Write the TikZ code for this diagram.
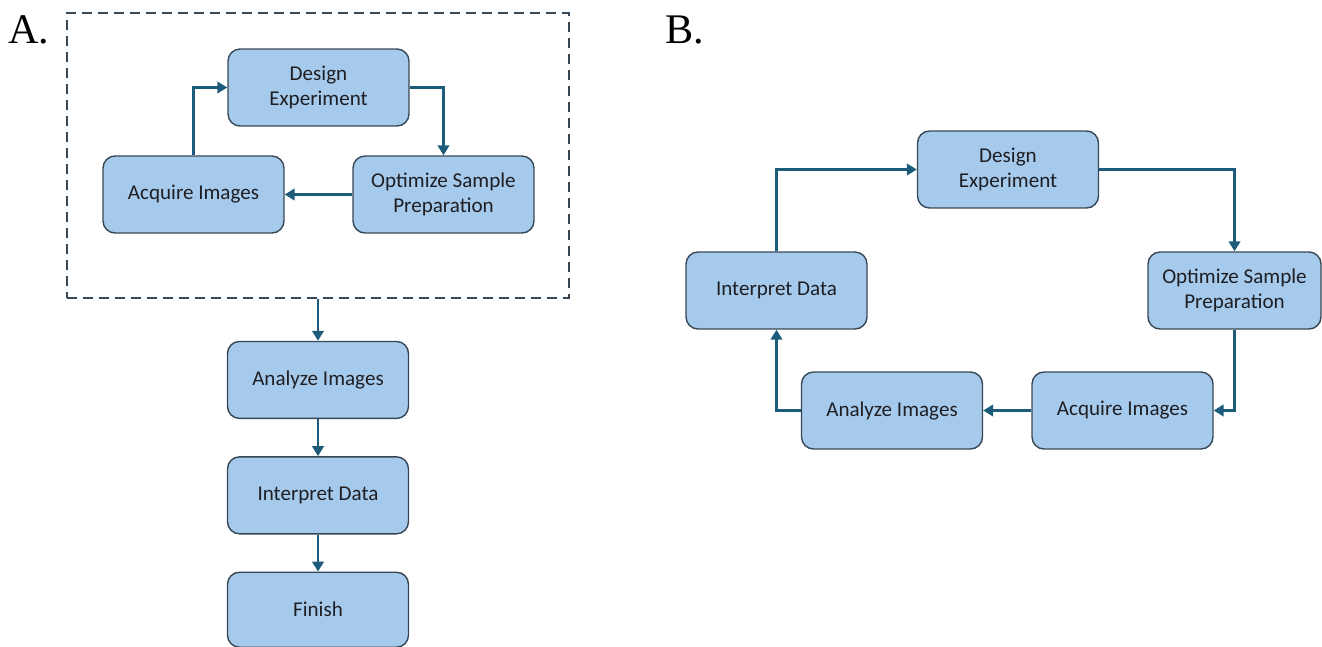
\documentclass[tikz,border=0pt]{standalone}
\usepackage{fontspec}
\setmainfont{Carlito}
\newfontfamily\panelfont{Liberation Serif}
\usetikzlibrary{arrows.meta,positioning}

\definecolor{boxfill}{RGB}{166,202,236}
\definecolor{boxline}{RGB}{55,70,85}
\definecolor{flowline}{RGB}{28,92,122}
\definecolor{boxtext}{RGB}{30,30,35}

\begin{document}
\begin{tikzpicture}[
	x = 0.02cm, y = -0.02cm, % pixel grid, y downwards
	> = {Triangle[length=2mm, width=2.3mm]}, % arrow head style
	stage/.style={rectangle, rounded corners=2.4mm, draw=boxline, line width=0.8pt, fill=boxfill, minimum width=3.62cm, minimum height=1.54cm, align=center, inner sep=2pt, text=boxtext, font=\fontsize{12}{14.5}\selectfont},
	flow/.style={->, draw=flowline, line width=1.6pt},
	frame/.style={rectangle, draw=boxline, line width=0.9pt, dash pattern=on 2mm off 1.2mm, minimum width=10.04cm, minimum height=5.7cm},
	panel/.style={font=\panelfont\fontsize{24}{24}\selectfont},
	]
	\useasboundingbox (0,0) rectangle (1322,646);

	% Panel A
	\node[panel] (labA) at (29,30) {A.};
	\node[frame] (loop) at (318,155.5) {};
	\node[stage] (designA) at (318.5,87.5) {Design\\Experiment};
	\node[stage] (optA) at (443.5,194.5) {Optimize Sample\\Preparation};
	\node[stage] (acqA) at (193.5,194.5) {Acquire Images};
	\node[stage] (anA) [below = 0.84cm of loop.south] {Analyze Images};
	\node[stage] (intA) [below = 0.74cm of anA] {Interpret Data};
	\node[stage, minimum height=1.5cm] (finA) [below = 0.74cm of intA] {Finish};
	% Paths connecting nodes
	\draw[flow] (acqA.north) |- (designA.west);
	\draw[flow] (designA.east) -| (optA.north);
	\draw[flow] (optA.west) -- (acqA.east);
	\draw[flow] (loop.south) -- (anA.north);
	\draw[flow] (anA) -- (intA);
	\draw[flow] (intA) -- (finA);

	% Panel B
	\node[panel] (labB) at (685,30) {B.};
	\node[stage] (designB) at (1008,169.5) {Design\\Experiment};
	\node[stage, minimum width=3.46cm] (optB) at (1234.5,290.5) {Optimize Sample\\Preparation};
	\node[stage] (acqB) at (1122.5,410.5) {Acquire Images};
	\node[stage] (anB) at (892,410.5) {Analyze Images};
	\node[stage] (intB) at (776.5,290.5) {Interpret Data};
	% Paths connecting nodes
	\draw[flow] (intB.north) |- (designB.west);
	\draw[flow] (designB.east) -| (optB.north);
	\draw[flow] (optB.south) |- (acqB.east);
	\draw[flow] (acqB.west) -- (anB.east);
	\draw[flow] (anB.west) -| (intB.south);
\end{tikzpicture}
\end{document}
